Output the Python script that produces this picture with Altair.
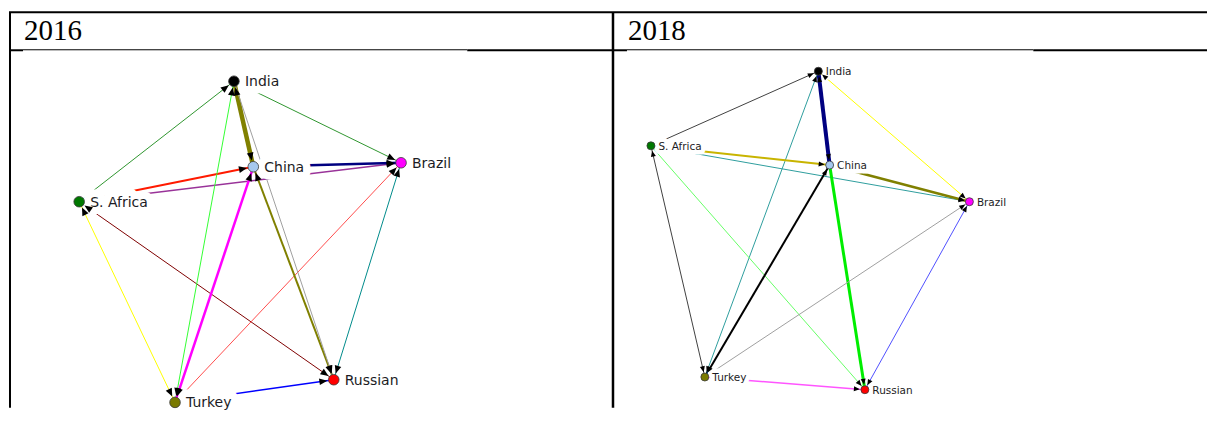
import math
import altair as alt
import pandas as pd

# ---------------- data ----------------
YEARS = ["2016", "2018"]
COUNTRIES = ["India", "China", "Brazil", "S. Africa", "Turkey", "Russian"]

# node layout coordinates (layout units, y grows downward), per year
X_2016 = [225.3, 244.7, 392.7, 70.3, 166.3, 325.3]
Y_2016 = [73.0, 158.7, 154.7, 193.7, 394.7, 372.0]
X_2018 = [205.7, 217.0, 357.0, 38.0, 92.0, 252.3]
Y_2018 = [63.0, 157.0, 193.7, 137.7, 369.3, 382.0]

# ties: source, target, tie strength, reciprocated (arrow at both ends)
SRC_2016 = ["S. Africa", "India", "India", "S. Africa", "S. Africa", "China", "S. Africa",
            "S. Africa", "India", "China", "Turkey", "Turkey", "China", "India", "Brazil"]
TGT_2016 = ["India", "Brazil", "China", "China", "Brazil", "Brazil", "Russian",
            "Turkey", "Turkey", "Turkey", "Brazil", "Russian", "Russian", "Russian", "Russian"]
STR_2016 = [1, 1, 4.5, 2, 1.5, 2.5, 1, 1, 1, 2.5, 1, 1.5, 2, 1, 1]
BOTH_2016 = [0, 0, 1, 0, 0, 0, 1, 1, 1, 1, 0, 0, 1, 0, 1]

SRC_2018 = ["S. Africa", "China", "India", "India", "S. Africa", "S. Africa", "China",
            "S. Africa", "S. Africa", "Turkey", "China", "Turkey", "Russian", "Turkey"]
TGT_2018 = ["India", "India", "Brazil", "Turkey", "China", "Brazil", "Brazil",
            "Turkey", "Russian", "China", "Russian", "Brazil", "Brazil", "Russian"]
STR_2018 = [1, 4, 1, 1, 2, 1, 2.5, 1, 1, 2, 3, 1, 1, 1.5]
BOTH_2018 = [0, 1, 1, 1, 0, 0, 0, 1, 0, 1, 0, 0, 1, 0]

# ---------------- styles ----------------
NODE_COLORS = {"India": "#000000", "China": "#a6c8ee", "Brazil": "#ff00ff",
               "S. Africa": "#007800", "Turkey": "#7a7a00", "Russian": "#ff0000"}
EDGE_COLORS_2016 = ["#2f962f", "#2f962f", "#808000", "#ff1a00", "#993399", "#000080", "#800000",
                    "#ffff00", "#33ff33", "#ff00ff", "#ff4d4d", "#0000ff", "#808000", "#a0a0a0",
                    "#008b8b"]
EDGE_COLORS_2018 = ["#404040", "#000080", "#ffff00", "#2e9e9e", "#c8b400", "#2e9e9e", "#808000",
                    "#404040", "#66ff66", "#000000", "#00ee00", "#a0a0a0", "#5050ff", "#ff55ff"]

W1, W2, H = 605, 595, 400
ARROW = "M0,0L-0.42,1L0.42,1Z"


def panel(year, xs, ys, src, tgt, strength, both, ecolors, width,
          node_r, node_size, arrow_size, font_size, label_dx, halo_w,
          left_x, left_w, thin_from, thin_to):
    pos = dict(zip(COUNTRIES, zip(xs, ys)))
    nodes = pd.DataFrame({"name": COUNTRIES, "x": xs, "y": ys,
                          "color": [NODE_COLORS[c] for c in COUNTRIES]})
    erows, arows = [], []
    for s, t, w, b, c in zip(src, tgt, strength, both, ecolors):
        (x0, y0), (x1, y1) = pos[s], pos[t]
        erows.append({"x": x0, "y": y0, "x2": x1, "y2": y1, "w": w, "color": c})
        ends = [(s, t)] + ([(t, s)] if b else [])
        for a, bb in ends:
            (ax, ay), (bx, by) = pos[a], pos[bb]
            dx, dy = bx - ax, by - ay
            L = math.hypot(dx, dy)
            arows.append({"x": bx - dx / L * (node_r + 0.5), "y": by - dy / L * (node_r + 0.5),
                          "angle": math.degrees(math.atan2(dx, -dy)) % 360})
    edf = pd.DataFrame(erows)
    adf = pd.DataFrame(arows)

    xsc = alt.Scale(domain=[0, width], nice=False, zero=False)
    ysc = alt.Scale(domain=[0, H], nice=False, zero=False, reverse=True)
    X = alt.X("x:Q", scale=xsc, axis=None)
    Y = alt.Y("y:Q", scale=ysc, axis=None)

    edges = alt.Chart(edf).mark_rule(strokeCap="butt").encode(
        x=X, y=Y, x2="x2:Q", y2="y2:Q",
        color=alt.Color("color:N", scale=None),
        strokeWidth=alt.StrokeWidth("w:Q", scale=None),
    )
    arrows = alt.Chart(adf).mark_point(shape=ARROW, filled=True, color="#000000",
                                       opacity=1, size=arrow_size, strokeWidth=0).encode(
        x=X, y=Y, angle=alt.Angle("angle:Q", scale=None))
    halo = alt.Chart(nodes).mark_text(align="left", baseline="middle", dx=label_dx, dy=1,
                                      fontSize=font_size, font="DejaVu Sans",
                                      stroke="white", strokeWidth=halo_w, strokeJoin="round",
                                      fill="white").encode(x=X, y=Y, text="name:N")
    dots = alt.Chart(nodes).mark_circle(size=node_size, opacity=1, stroke="#3a3a3a",
                                        strokeWidth=0.8).encode(
        x=X, y=Y, color=alt.Color("color:N", scale=None))
    labels = alt.Chart(nodes).mark_text(align="left", baseline="middle", dx=label_dx, dy=1,
                                        fontSize=font_size, font="DejaVu Sans",
                                        fill="#1c1c24").encode(x=X, y=Y, text="name:N")

    # table frame of the cell
    top = alt.Chart().mark_rule(color="black", strokeWidth=2).encode(
        x=alt.value(0), x2=alt.value(width), y=alt.value(4))
    left = alt.Chart().mark_rule(color="black", strokeWidth=left_w).encode(
        x=alt.value(left_x), y=alt.value(4), y2=alt.value(H))
    sep_a = alt.Chart().mark_rule(color="black", strokeWidth=2).encode(
        x=alt.value(0), x2=alt.value(thin_from), y=alt.value(42))
    sep_b = alt.Chart().mark_rule(color="black", strokeWidth=1).encode(
        x=alt.value(thin_from), x2=alt.value(thin_to), y=alt.value(41.5))
    sep_c = alt.Chart().mark_rule(color="black", strokeWidth=2).encode(
        x=alt.value(thin_to), x2=alt.value(width), y=alt.value(42))
    title = alt.Chart().mark_text(align="left", baseline="alphabetic", font="Liberation Serif",
                                  fontSize=29, color="black").encode(
        x=alt.value(15), y=alt.value(31.5), text=alt.value(year))

    return alt.layer(edges, halo, arrows, dots, labels, top, left, sep_a, sep_b, sep_c,
                     title).properties(width=width, height=H)


p1 = panel(YEARS[0], X_2016, Y_2016, SRC_2016, TGT_2016, STR_2016, BOTH_2016,
           EDGE_COLORS_2016, W1, node_r=6, node_size=113, arrow_size=256, font_size=14,
           label_dx=11, halo_w=15, left_x=1, left_w=2, thin_from=14, thin_to=459)
p2 = panel(YEARS[1], X_2018, Y_2018, SRC_2018, TGT_2018, STR_2018, BOTH_2018,
           EDGE_COLORS_2018, W2, node_r=4.5, node_size=64, arrow_size=144, font_size=10.5,
           label_dx=7.5, halo_w=9, left_x=0, left_w=2.5, thin_from=14, thin_to=421)

chart = alt.hconcat(p1, p2, spacing=0, bounds="flush").properties(padding=0).configure_view(
    stroke=None)

chart.save("out.html", embed_options={"renderer": "svg", "actions": False})
